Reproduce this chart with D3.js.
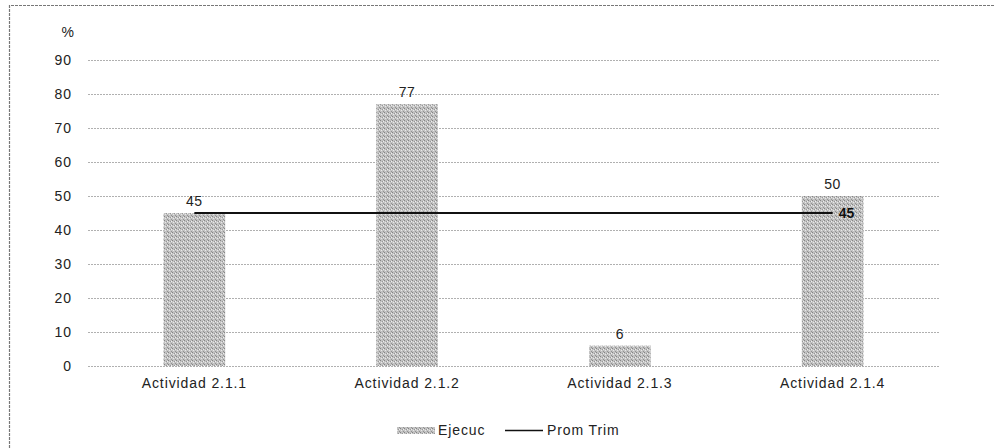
<!DOCTYPE html>
<html><head><meta charset="utf-8">
<script src="https://cdn.jsdelivr.net/npm/d3@7"></script>
<style>body{margin:0;background:#fff}svg{display:block}</style>
</head><body>
<svg id="c" width="995" height="448"></svg>
<script>
const categories = ["Actividad 2.1.1","Actividad 2.1.2","Actividad 2.1.3","Actividad 2.1.4"];
const ejecuc = [45, 77, 6, 50];
const promTrim = [45, 45, 45, 45];
const yTicks = [0,10,20,30,40,50,60,70,80,90];

const svg = d3.select("#c");
const font = "'Liberation Sans', Arial, sans-serif";
const x = d3.scaleBand().domain(categories).range([88, 939]).padding(0);
const y = d3.scaleLinear().domain([0, 90]).range([366, 60]);
const barW = x.bandwidth() * 0.29;

// texture pattern
const defs = svg.append("defs");
const pat = defs.append("pattern").attr("id","tex").attr("width",4).attr("height",4).attr("patternUnits","userSpaceOnUse");
pat.append("rect").attr("width",4).attr("height",4).attr("fill","#c2c2c2");
pat.append("rect").attr("x",0).attr("y",0).attr("width",1).attr("height",1).attr("fill","#858585");
pat.append("rect").attr("x",2).attr("y",1).attr("width",1).attr("height",1).attr("fill","#989898");
pat.append("rect").attr("x",1).attr("y",2).attr("width",1).attr("height",1).attr("fill","#e8e8e8");
pat.append("rect").attr("x",3).attr("y",3).attr("width",1).attr("height",1).attr("fill","#929292");
pat.append("rect").attr("x",3).attr("y",1).attr("width",1).attr("height",1).attr("fill","#eeeeee");

// border
svg.append("path").attr("d","M9.5,448 L9.5,5.5 L995,5.5").attr("fill","none")
  .attr("stroke","#777").attr("stroke-width",1.2).attr("stroke-dasharray","3,1");

// grid
svg.append("g").selectAll("line").data(yTicks).join("line")
  .attr("x1",88).attr("x2",939).attr("y1",d=>Math.round(y(d))+0.5).attr("y2",d=>Math.round(y(d))+0.5)
  .attr("stroke","#b0b0b0").attr("stroke-width",1).attr("stroke-dasharray","2,1");

// y axis labels
const yAxis = d3.axisLeft(y).tickValues(yTicks).tickSize(0).tickPadding(0);
const gy = svg.append("g").attr("transform","translate(72,0)").call(yAxis);
gy.select(".domain").remove();
gy.selectAll("text").attr("font-family",font).attr("font-size",14).attr("fill","#222").attr("letter-spacing","1px");
svg.append("text").attr("x",74).attr("y",37).attr("text-anchor","end").attr("font-family",font)
  .attr("font-size",14).attr("fill","#222").text("%");

// bars
svg.append("g").selectAll("rect").data(categories).join("rect")
  .attr("x",(d)=>x(d)+x.bandwidth()/2-barW/2).attr("width",barW)
  .attr("y",(d,i)=>y(ejecuc[i])).attr("height",(d,i)=>y(0)-y(ejecuc[i]))
  .attr("fill","url(#tex)");

// bar labels
svg.append("g").selectAll("text").data(categories).join("text")
  .attr("x",d=>x(d)+x.bandwidth()/2).attr("y",(d,i)=>y(ejecuc[i])-7)
  .attr("text-anchor","middle").attr("font-family",font).attr("font-size",14).attr("fill","#222")
  .attr("letter-spacing","0.5px")
  .text((d,i)=>ejecuc[i]);

// line
const line = d3.line().x((d,i)=>x(categories[i])+x.bandwidth()/2).y(d=>y(d));
svg.append("path").datum(promTrim).attr("d",line).attr("fill","none").attr("stroke","#111").attr("stroke-width",2);
const last = promTrim.length-1;
svg.append("text").attr("x",x(categories[last])+x.bandwidth()/2+6).attr("y",y(promTrim[last])+5)
  .attr("font-family",font).attr("font-size",14).attr("font-weight","bold").attr("fill","#111").text(promTrim[last]);

// x axis labels
const xAxis = d3.axisBottom(x).tickSize(0).tickPadding(0);
const gx = svg.append("g").attr("transform","translate(0,377)").call(xAxis);
gx.select(".domain").remove();
gx.selectAll("text").attr("font-family",font).attr("font-size",14).attr("fill","#222").attr("letter-spacing","0.9px").attr("dy","0.75em");

// legend
const lg = svg.append("g");
lg.append("rect").attr("x",397).attr("y",427).attr("width",38).attr("height",7).attr("fill","url(#tex)");
lg.append("text").attr("x",438).attr("y",435).attr("font-family",font).attr("font-size",14).attr("fill","#222").attr("letter-spacing","0.9px").text("Ejecuc");
lg.append("line").attr("x1",505).attr("x2",543).attr("y1",430.5).attr("y2",430.5).attr("stroke","#111").attr("stroke-width",1.5);
lg.append("text").attr("x",547).attr("y",435).attr("font-family",font).attr("font-size",14).attr("fill","#222").attr("letter-spacing","0.9px").text("Prom Trim");
</script>
</body></html>
